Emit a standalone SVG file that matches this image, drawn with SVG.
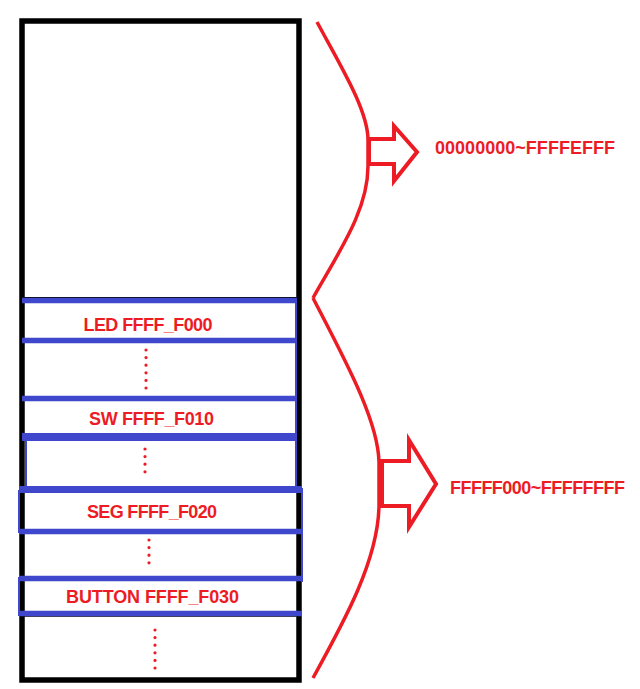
<svg xmlns="http://www.w3.org/2000/svg" width="640" height="689" viewBox="0 0 640 689">
<style>
.lbl{font-family:"Liberation Sans",Arial,sans-serif;font-weight:bold;font-size:18px;fill:#ED1C24;text-anchor:middle}
.band{stroke:#3F48CC;stroke-width:5.5;fill:none}
.side{stroke:#3F48CC;stroke-width:2;fill:none}
.dots{stroke:#ED1C24;stroke-width:3.2;stroke-linecap:round;stroke-dasharray:0 7.6;fill:none}
.red{stroke:#ED1C24;stroke-width:3.5;fill:none;stroke-linejoin:miter}
.arrow{stroke:#ED1C24;stroke-width:4;fill:#fff;stroke-linejoin:miter}
</style>
<rect width="640" height="689" fill="#fff"/>
<g id="memory">
<rect x="22" y="21" width="277" height="659" fill="#fff" stroke="#000" stroke-width="5.5"/>
</g>
<g id="sides">
<line class="side" x1="296" y1="300" x2="296" y2="437"/>
<line class="side" x1="26" y1="437" x2="26" y2="490"/>
<line class="side" x1="296" y1="437" x2="296" y2="490"/>
<line class="side" x1="19" y1="490" x2="19" y2="533"/>
<line class="side" x1="302" y1="488" x2="302" y2="582"/>
<line class="side" x1="19" y1="577" x2="19" y2="616"/>
<line x1="22" y1="297.5" x2="297" y2="297.5" stroke="#000" stroke-width="1"/>
<line x1="22" y1="616" x2="299" y2="616" stroke="#000" stroke-width="1.5"/>
</g>
<g id="led">
<line class="band" x1="22" y1="300.5" x2="297" y2="300.5"/>
<line class="band" x1="22" y1="340.5" x2="297" y2="340.5"/>
<text class="lbl" x="148" y="331" textLength="129">LED FFFF_F000</text>
</g>
<g id="gap1">
<line class="dots" x1="146" y1="350" x2="146" y2="388"/>
</g>
<g id="sw">
<line class="band" x1="22" y1="398.5" x2="297" y2="398.5"/>
<line x1="22" y1="437" x2="297" y2="437" stroke="#3F48CC" stroke-width="8"/>
<text class="lbl" x="151.5" y="425" textLength="125">SW FFFF_F010</text>
</g>
<g id="gap2">
<line class="dots" x1="145" y1="449" x2="145" y2="479"/>
</g>
<g id="seg">
<line x1="19" y1="489.5" x2="302" y2="489.5" stroke="#3F48CC" stroke-width="7"/>
<line class="band" x1="19" y1="531.5" x2="302" y2="531.5"/>
<text class="lbl" x="152" y="518" textLength="130">SEG FFFF_F020</text>
</g>
<g id="gap3">
<line class="dots" x1="149" y1="540" x2="149" y2="570"/>
</g>
<g id="button">
<line class="band" x1="19" y1="578.5" x2="302" y2="578.5"/>
<line class="band" x1="19" y1="613.5" x2="302" y2="613.5"/>
<text class="lbl" x="152.5" y="603" textLength="173">BUTTON FFFF_F030</text>
</g>
<g id="gap4">
<line class="dots" x1="155" y1="630" x2="155" y2="668"/>
</g>
<g id="connectors">
<path class="red" d="M317,22 C340,65 368,110 368,140 L368,166 C368,210 340,250 313,298"/>
<path class="red" d="M313,298 C345,360 378,420 379,462 L379,506 C378,560 345,620 313,678"/>
<path class="arrow" d="M369,139 L394,139 L394,126 L417,152 L394,181 L394,164 L369,164 Z"/>
<path class="arrow" d="M382,461 L409,461 L409,440 L436,484 L409,527 L409,506 L382,506 Z"/>
</g>
<g id="range1">
<text class="lbl" x="525" y="154" textLength="180">00000000~FFFFEFFF</text>
</g>
<g id="range2">
<text class="lbl" x="537.5" y="494" textLength="175">FFFFF000~FFFFFFFF</text>
</g>
</svg>
